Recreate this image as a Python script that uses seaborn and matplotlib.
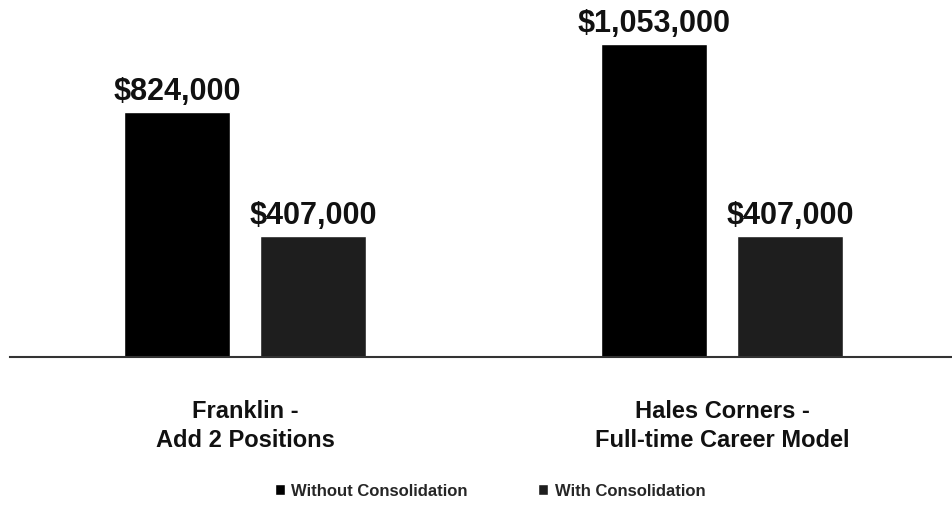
import matplotlib
matplotlib.use("Agg")
import matplotlib.pyplot as plt
import seaborn as sns
import pandas as pd

categories = ["Franklin -\nAdd 2 Positions", "Hales Corners -\nFull-time Career Model"]
series = ["Without Consolidation", "With Consolidation"]
without_vals = [824000, 1053000]
with_vals = [407000, 407000]

df = pd.DataFrame({
    "category": categories * 2,
    "series": [series[0]] * 2 + [series[1]] * 2,
    "value": without_vals + with_vals,
})

sns.set_theme(style="white")
plt.rcParams['font.family'] = ['Liberation Sans', 'DejaVu Sans']

fig = plt.figure(figsize=(9.52, 5.06), dpi=100)
ax = fig.add_axes([10/952, (506-358)/506, 1 - 10/952, 358/506])

palette = {series[0]: "#000000", series[1]: "#1e1e1e"}
sns.barplot(data=df, x="category", y="value", hue="series", palette=palette,
            width=0.57, gap=0.22, ax=ax, legend=True, saturation=1)

for c in ax.containers:
    ax.bar_label(c, labels=[f"${v:,.0f}" for v in c.datavalues], padding=4,
                 fontsize=22, fontweight="bold", color="#111111")

ax.set_ylim(0, 1204000)
ax.set_xlim(-0.493, 1.482)
ax.set_xlabel("")
ax.set_ylabel("")
ax.set_yticks([])
for s in ["top", "right", "left"]:
    ax.spines[s].set_visible(False)
ax.spines["bottom"].set_color("#333333")
ax.spines["bottom"].set_linewidth(1.5)
ax.tick_params(axis="x", length=0, pad=30)
for t in ax.get_xticklabels():
    t.set_fontsize(17)
    t.set_fontweight("bold")
    t.set_color("#111111")
    t.set_linespacing(1.35)

leg = ax.legend(loc="center", bbox_to_anchor=(490/952, 14/506), bbox_transform=fig.transFigure,
                ncol=2, frameon=False, handlelength=0.6, handleheight=0.6,
                handletextpad=0.4, columnspacing=4.2, prop={"weight": "bold", "size": 12})

fig.savefig("out.png", dpi=100)
